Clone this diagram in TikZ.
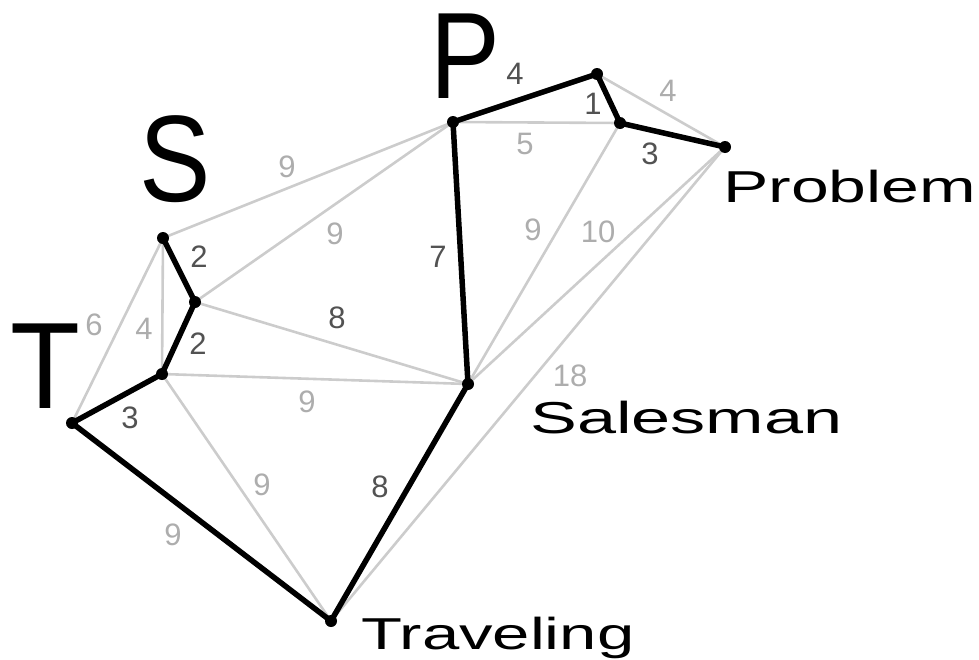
\documentclass[tikz,border=0pt]{standalone}
\usepackage{fontspec}
\setmainfont{Liberation Sans}
\begin{document}
\begin{tikzpicture}[x=1pt,y=-1pt,
  thin edge/.style={draw=black!20,line width=2.6pt},
  thick edge/.style={draw=black,line width=5.5pt,line cap=round,line join=round},
  vtx/.style={circle,fill=black,inner sep=0pt,minimum size=12pt},
  lightlab/.style={text=black!32,font=\fontsize{31}{31}\selectfont,inner sep=0pt},
  darklab/.style={text=black!68,font=\fontsize{31}{31}\selectfont,inner sep=0pt},
  bigletter/.style={font=\fontsize{123}{123}\selectfont,inner sep=0pt,anchor=base},
  word/.style={font=\fontsize{44.7}{50}\selectfont,inner sep=0pt,anchor=base west}]
\useasboundingbox (0,0) rectangle (979,659);
% vertices
\coordinate (T) at (72,423);
\coordinate (S1) at (163,238);
\coordinate (S2) at (195,302);
\coordinate (S3) at (162,374);
\coordinate (P) at (453,122);
\coordinate (A) at (597,74);
\coordinate (B) at (620,123);
\coordinate (Pr) at (725,147);
\coordinate (Sa) at (468,384);
\coordinate (Tr) at (331,621);
% light edges
\draw[thin edge] (T) -- (S1);
\draw[thin edge] (S3) -- (S1);
\draw[thin edge] (S1) -- (P);
\draw[thin edge] (S2) -- (P);
\draw[thin edge] (S2) -- (Sa);
\draw[thin edge] (S3) -- (Sa);
\draw[thin edge] (S3) -- (Tr);
\draw[thin edge] (P) -- (B);
\draw[thin edge] (A) -- (Pr);
\draw[thin edge] (B) -- (Sa);
\draw[thin edge] (Pr) -- (Sa);
\draw[thin edge] (Pr) -- (Tr);
% tour
\draw[thick edge] (T) -- (S3) -- (S2) -- (S1);
\draw[thick edge] (T) -- (Tr) -- (Sa) -- (P) -- (A) -- (B) -- (Pr);
% dots
\foreach \v in {T,S1,S2,S3,P,A,B,Pr,Sa,Tr} \node[vtx] (d\v) at (\v) {};
% weights
\node[darklab] (w1) at (130,418) {3};
\node[darklab] (w2) at (199,257) {2};
\node[darklab] (w3) at (198,344) {2};
\node[lightlab] (w4) at (94,325) {6};
\node[lightlab] (w5) at (144,329) {4};
\node[lightlab] (w6) at (287,167) {9};
\node[lightlab] (w7) at (335,234) {9};
\node[darklab] (w8) at (438,257) {7};
\node[darklab] (w9) at (337,318) {8};
\node[lightlab] (w10) at (307,402) {9};
\node[lightlab] (w11) at (262,485) {9};
\node[darklab] (w12) at (380,487) {8};
\node[lightlab] (w13) at (173,535) {9};
\node[darklab] (w14) at (515,74) {4};
\node[darklab] (w15) at (593,104) {1};
\node[lightlab] (w16) at (525,144) {5};
\node[lightlab] (w17) at (668,91) {4};
\node[darklab] (w18) at (650,154) {3};
\node[lightlab] (w19) at (533,230) {9};
\node[lightlab] (w20) at (598,232) {10};
\node[lightlab] (w21) at (570,376) {18};
% letters
\node[bigletter] (lP) at (465,98) {\scalebox{0.85}[1]{P}};
\node[bigletter] (lS) at (175,201) {\scalebox{0.87}[1]{S}};
\node[bigletter] (lT) at (45,408) {\scalebox{0.93}[1]{T}};
% words
\node[word] (wProblem) at (723,202) {\scalebox{1.52}[1]{Problem}};
\node[word] (wSalesman) at (530,433) {\scalebox{1.57}[1]{Salesman}};
\node[word] (wTraveling) at (361,649) {\scalebox{1.5}[1]{Traveling}};
\end{tikzpicture}
\end{document}
